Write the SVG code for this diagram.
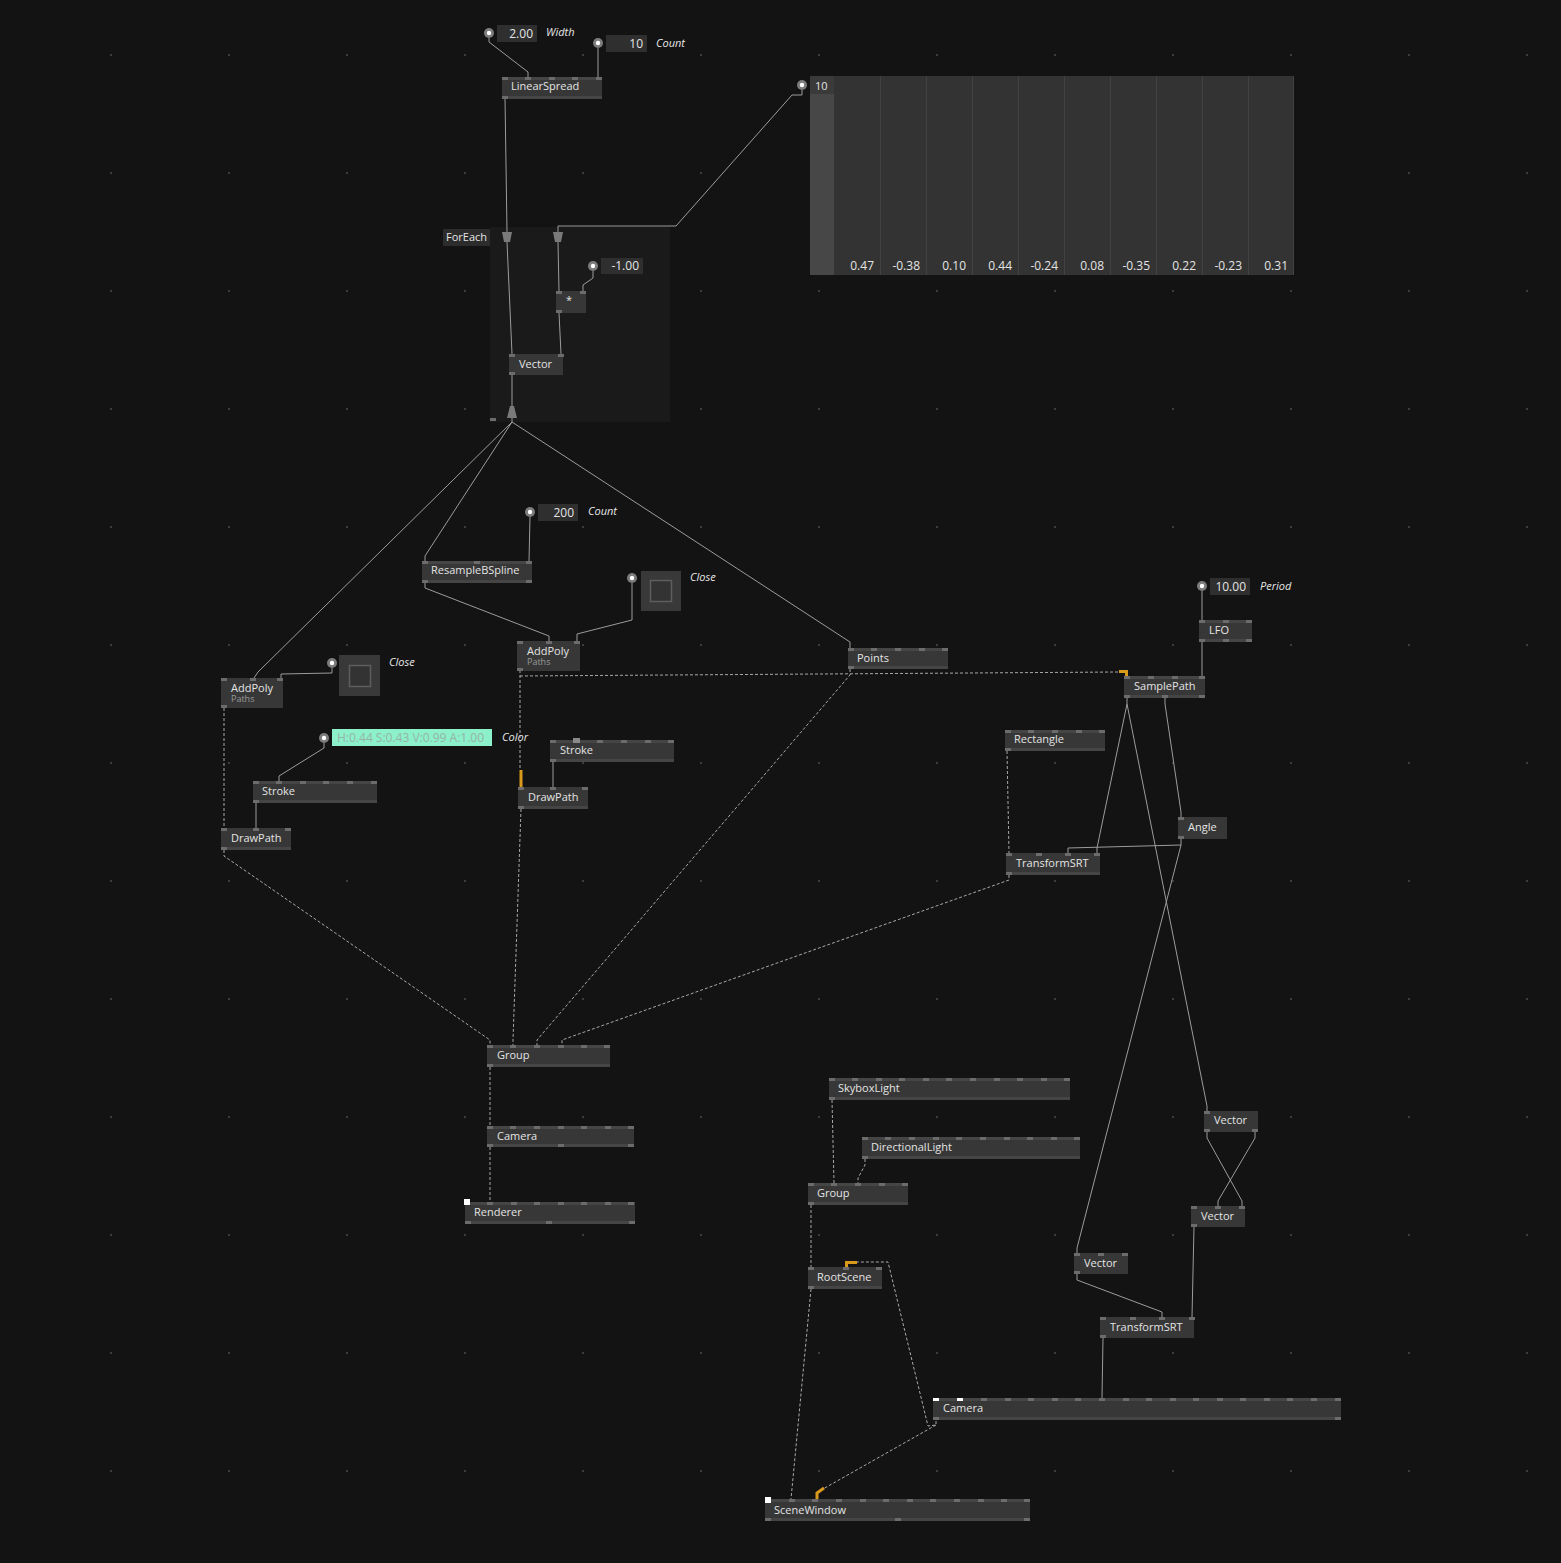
<svg xmlns="http://www.w3.org/2000/svg" xmlns:xlink="http://www.w3.org/1999/xlink" width="1561" height="1563" viewBox="0 0 1561 1563">
<defs>
<style>
.b{fill:#373737}
.s{fill:#454545}
.p{fill:#6c6c6c}
.w{fill:#ffffff}
.t{font-family:"Open Sans","Liberation Sans",sans-serif;font-size:11px;fill:#e4e4e4}
.sub{font-family:"Open Sans","Liberation Sans",sans-serif;font-size:9px;fill:#9a9a9a}
.lb{font-family:"Open Sans","Liberation Sans",sans-serif;font-size:11px;font-style:italic;fill:#e6e6e6}
.v{font-family:"Open Sans","Liberation Sans",sans-serif;font-size:12px;fill:#e4e4e4;text-anchor:end}
.io{fill:#2f2f2f}
.lk{fill:none;stroke:#9c9c9c;stroke-width:1}
.dl{fill:none;stroke:#a8a8a8;stroke-width:1;stroke-dasharray:3 2}
.or{fill:none;stroke:#d99a1c;stroke-width:3}
.dot{fill:#3c3c3c}
.spl{fill:#7a7a7a}
</style>
<g id="pc"><circle r="5" fill="#7c7c7c"/><circle r="2.2" fill="#ffffff"/></g>
</defs>
<rect x="0" y="0" width="1561" height="1563" fill="#131313"/>
<g id="grid">
<g id="dots">
<rect class="dot" x="110" y="54" width="2" height="2"/><rect class="dot" x="228" y="54" width="2" height="2"/><rect class="dot" x="346" y="54" width="2" height="2"/><rect class="dot" x="464" y="54" width="2" height="2"/><rect class="dot" x="582" y="54" width="2" height="2"/><rect class="dot" x="700" y="54" width="2" height="2"/><rect class="dot" x="818" y="54" width="2" height="2"/><rect class="dot" x="936" y="54" width="2" height="2"/><rect class="dot" x="1054" y="54" width="2" height="2"/><rect class="dot" x="1172" y="54" width="2" height="2"/><rect class="dot" x="1290" y="54" width="2" height="2"/><rect class="dot" x="1408" y="54" width="2" height="2"/><rect class="dot" x="1526" y="54" width="2" height="2"/>
</g>
<use href="#dots" y="118"/><use href="#dots" y="236"/><use href="#dots" y="354"/><use href="#dots" y="472"/><use href="#dots" y="590"/><use href="#dots" y="708"/><use href="#dots" y="826"/><use href="#dots" y="944"/><use href="#dots" y="1062"/><use href="#dots" y="1180"/><use href="#dots" y="1298"/><use href="#dots" y="1416"/>
</g>
<g id="n-foreach">
<rect x="490" y="227" width="180" height="195" fill="#1a1a1a"/>
<rect x="443" y="229" width="47" height="17" fill="#2c2c2c"/>
<text class="t" x="446" y="241">ForEach</text>
<rect class="p" x="490" y="418" width="6" height="3"/>
</g>
<g id="connectors">
<path class="lk" d="M489,38 L489,42 L528,72 L528,77"/>
<path class="lk" d="M598,48 L598,77"/>
<path class="lk" d="M505,98 L507,232"/>
<path class="lk" d="M802,90 L802,95 L792,95 L676,226 L558,226 L558,232"/>
<path class="lk" d="M507,242 L512,354"/>
<path class="lk" d="M558,242 L559,291"/>
<path class="lk" d="M593,271 L593,278 L583,285 L583,291"/>
<path class="lk" d="M559,313 L561,354"/>
<path class="lk" d="M512,375 L512,406"/>
<path class="lk" d="M512,418 L512,422 L258,672 L254,678"/>
<path class="lk" d="M512,422 L425,556 L425,561"/>
<path class="lk" d="M512,422 L850,642 L850,648"/>
<path class="lk" d="M530,517 L529,561"/>
<path class="lk" d="M425,582 L425,588 L549,636 L549,641"/>
<path class="lk" d="M632,583 L632,620 L577,634 L577,641"/>
<path class="lk" d="M332,668 L332,673 L281,674 L281,678"/>
<path class="lk" d="M324,743 L324,748 L279,776 L279,781"/>
<path class="lk" d="M256,803 L256,828"/>
<path class="lk" d="M553,762 L553,787"/>
<path class="lk" d="M1202,591 L1202,620"/>
<path class="lk" d="M1202,642 L1202,676"/>
<path class="lk" d="M1127,698 L1127,704 L1097,848 L1097,853"/>
<path class="lk" d="M1127,704 L1207,1106 L1207,1111"/>
<path class="lk" d="M1165,698 L1165,704 L1181,812 L1181,817"/>
<path class="lk" d="M1181,839 L1181,845 L1068,848 L1068,853"/>
<path class="lk" d="M1181,845 L1077,1248 L1077,1253"/>
<path class="lk" d="M1207,1132 L1207,1138 L1242,1201 L1242,1206"/>
<path class="lk" d="M1255,1132 L1255,1138 L1218,1201 L1218,1206"/>
<path class="lk" d="M1077,1274 L1077,1280 L1162,1312 L1162,1317"/>
<path class="lk" d="M1194,1227 L1192,1317"/>
<path class="lk" d="M1103,1338 L1102,1398"/>
<path class="dl" d="M224,708 L224,828"/>
<path class="dl" d="M520,670 L520,770"/>
<path class="dl" d="M520,676 L1119,672"/>
<path class="dl" d="M224,850 L224,856 L490,1040 L490,1045"/>
<path class="dl" d="M521,809 L513,1040 L513,1045"/>
<path class="dl" d="M850,669 L850,675 L537,1040 L537,1045"/>
<path class="dl" d="M1009,875 L1009,880 L562,1040 L562,1045"/>
<path class="dl" d="M1007,751 L1009,853"/>
<path class="dl" d="M490,1067 L490,1126"/>
<path class="dl" d="M490,1147 L490,1202"/>
<path class="dl" d="M832,1100 L834,1183"/>
<path class="dl" d="M865,1159 L865,1165 L858,1178 L858,1183"/>
<path class="dl" d="M811,1205 L811,1267"/>
<path class="dl" d="M811,1289 L791,1499"/>
<path class="dl" d="M936,1421 L936,1425 L928,1426 L888,1262 L857,1262"/>
<path class="dl" d="M936,1425 L823,1489"/>
<path class="or" d="M521,770 L521,787"/>
<path class="or" d="M1119,671.5 L1126.5,671.5 L1126.5,677"/>
<path class="or" d="M857,1262.5 L846.5,1262.5 L846.5,1267"/>
<path class="or" d="M824,1488 L817,1493 L817,1499"/>
</g>
<g id="n-width">
<use href="#pc" x="489" y="33"/>
<rect class="io" x="497" y="25" width="40" height="17"/>
<text class="v" x="533" y="38">2.00</text>
<text class="lb" x="546" y="36">Width</text>
</g>
<g id="n-count">
<use href="#pc" x="598" y="43"/>
<rect class="io" x="606" y="35" width="41" height="17"/>
<text class="v" x="643" y="48">10</text>
<text class="lb" x="656" y="47">Count</text>
</g>
<g id="n-linearspread">
<rect class="b" x="502" y="77" width="100" height="22"/>
<rect class="s" x="502" y="77" width="100" height="3"/><rect class="s" x="502" y="96" width="100" height="3"/>
<rect class="p" x="502" y="77" width="6" height="3"/><rect class="p" x="525" y="77" width="6" height="3"/><rect class="p" x="549" y="77" width="6" height="3"/><rect class="p" x="572" y="77" width="6" height="3"/><rect class="p" x="596" y="77" width="6" height="3"/>
<rect class="p" x="502" y="96" width="6" height="3"/>
<text class="t" x="511" y="90">LinearSpread</text>
</g>
<g id="n-spread">
<use href="#pc" x="802" y="85"/>
<rect x="810" y="76" width="484" height="199" fill="#333333"/>
<rect x="810" y="76" width="24" height="199" fill="#474747"/>
<rect x="810" y="76" width="24" height="18" fill="#3a3a3a"/>
<text class="t" x="815" y="90">10</text>
<g stroke="#424242" stroke-width="1">
<line x1="880.5" y1="76" x2="880.5" y2="275"/><line x1="926.5" y1="76" x2="926.5" y2="275"/><line x1="972.5" y1="76" x2="972.5" y2="275"/><line x1="1018.5" y1="76" x2="1018.5" y2="275"/><line x1="1064.5" y1="76" x2="1064.5" y2="275"/><line x1="1110.5" y1="76" x2="1110.5" y2="275"/><line x1="1156.5" y1="76" x2="1156.5" y2="275"/><line x1="1202.5" y1="76" x2="1202.5" y2="275"/><line x1="1248.5" y1="76" x2="1248.5" y2="275"/><line x1="1293.5" y1="76" x2="1293.5" y2="275"/>
</g>
<text class="v" x="874" y="270">0.47</text><text class="v" x="920" y="270">-0.38</text><text class="v" x="966" y="270">0.10</text><text class="v" x="1012" y="270">0.44</text><text class="v" x="1058" y="270">-0.24</text><text class="v" x="1104" y="270">0.08</text><text class="v" x="1150" y="270">-0.35</text><text class="v" x="1196" y="270">0.22</text><text class="v" x="1242" y="270">-0.23</text><text class="v" x="1288" y="270">0.31</text>
</g>
<g id="n-splicers">
<polygon class="spl" points="502,232 512,232 510,242 504,242"/>
<polygon class="spl" points="553,232 563,232 561,242 555,242"/>
<polygon class="spl" points="510,406 514,406 517,418 507,418"/>
</g>
<g id="n-minus1">
<use href="#pc" x="593" y="266"/>
<rect class="io" x="601" y="258" width="42" height="16"/>
<text class="v" x="639" y="270">-1.00</text>
</g>
<g id="n-multiply">
<rect class="b" x="556" y="291" width="30" height="22"/>
<rect class="p" x="556" y="291" width="6" height="3"/><rect class="p" x="580" y="291" width="6" height="3"/><rect class="p" x="556" y="310" width="6" height="3"/>
<text class="t" x="566" y="304">*</text>
</g>
<g id="n-vector-fe">
<rect class="b" x="509" y="354" width="54" height="21"/>
<rect class="p" x="509" y="354" width="6" height="3"/><rect class="p" x="558" y="354" width="6" height="3"/><rect class="p" x="509" y="372" width="6" height="3"/>
<text class="t" x="519" y="368">Vector</text>
</g>
<g id="n-count200">
<use href="#pc" x="530" y="512"/>
<rect class="io" x="538" y="504" width="40" height="17"/>
<text class="v" x="574" y="517">200</text>
<text class="lb" x="588" y="515">Count</text>
</g>
<g id="n-resample">
<rect class="b" x="422" y="561" width="110" height="22"/>
<rect class="s" x="422" y="561" width="110" height="3"/><rect class="s" x="422" y="580" width="110" height="3"/>
<rect class="p" x="422" y="561" width="6" height="3"/><rect class="p" x="474" y="561" width="6" height="3"/><rect class="p" x="526" y="561" width="6" height="3"/>
<rect class="p" x="422" y="580" width="6" height="3"/><rect class="p" x="526" y="580" width="6" height="3"/>
<text class="t" x="431" y="574">ResampleBSpline</text>
</g>
<g id="n-close-mid">
<use href="#pc" x="632" y="578"/>
<rect x="641" y="571" width="40" height="40" fill="#393939"/>
<rect x="650.5" y="580.5" width="21" height="21" fill="#333" stroke="#5e5e5e" stroke-width="1.5"/>
<text class="lb" x="690" y="581">Close</text>
</g>
<g id="n-addpoly-mid">
<rect class="b" x="517" y="641" width="63" height="30"/>
<rect class="p" x="517" y="641" width="6" height="3"/><rect class="p" x="546" y="641" width="6" height="3"/><rect class="p" x="574" y="641" width="6" height="3"/><rect class="p" x="517" y="668" width="6" height="3"/>
<text class="t" x="527" y="655">AddPoly</text>
<text class="sub" x="527" y="665">Paths</text>
</g>
<g id="n-close-left">
<use href="#pc" x="332" y="663"/>
<rect x="339" y="655" width="41" height="41" fill="#393939"/>
<rect x="349.5" y="665.5" width="21" height="21" fill="#333" stroke="#5e5e5e" stroke-width="1.5"/>
<text class="lb" x="389" y="666">Close</text>
</g>
<g id="n-addpoly-left">
<rect class="b" x="221" y="678" width="62" height="30"/>
<rect class="p" x="221" y="678" width="6" height="3"/><rect class="p" x="250" y="678" width="6" height="3"/><rect class="p" x="277" y="678" width="6" height="3"/><rect class="p" x="221" y="705" width="6" height="3"/>
<text class="t" x="231" y="692">AddPoly</text>
<text class="sub" x="231" y="702">Paths</text>
</g>
<g id="n-color">
<use href="#pc" x="324" y="738"/>
<rect x="332" y="729" width="160" height="17" fill="#8cf0cb"/>
<text x="337" y="742" font-family="Open Sans, Liberation Sans, sans-serif" font-size="12" fill="#97b3a8">H:0.44 S:0.43 V:0.99 A:1.00</text>
<text class="lb" x="502" y="741">Color</text>
</g>
<g id="n-stroke-left">
<rect class="b" x="253" y="781" width="124" height="22"/>
<rect class="s" x="253" y="781" width="124" height="3"/><rect class="s" x="253" y="800" width="124" height="3"/>
<rect class="p" x="253" y="781" width="6" height="3"/><rect class="p" x="276" y="781" width="6" height="3"/><rect class="p" x="300" y="781" width="6" height="3"/><rect class="p" x="323" y="781" width="6" height="3"/><rect class="p" x="347" y="781" width="6" height="3"/><rect class="p" x="371" y="781" width="6" height="3"/>
<rect class="p" x="253" y="800" width="6" height="3"/>
<text class="t" x="262" y="795">Stroke</text>
</g>
<g id="n-drawpath-left">
<rect class="b" x="221" y="828" width="70" height="22"/>
<rect class="s" x="221" y="847" width="70" height="3"/>
<rect class="p" x="221" y="828" width="6" height="3"/><rect class="p" x="253" y="828" width="6" height="3"/><rect class="p" x="285" y="828" width="6" height="3"/>
<rect class="p" x="221" y="847" width="6" height="3"/>
<text class="t" x="231" y="842">DrawPath</text>
</g>
<g id="n-stroke-mid">
<rect class="b" x="550" y="740" width="124" height="22"/>
<rect class="s" x="550" y="740" width="124" height="3"/><rect class="s" x="550" y="759" width="124" height="3"/>
<rect class="p" x="550" y="740" width="6" height="3"/><rect x="573" y="738" width="7" height="5" fill="#8a8a8a"/><rect class="p" x="597" y="740" width="6" height="3"/><rect class="p" x="621" y="740" width="6" height="3"/><rect class="p" x="645" y="740" width="6" height="3"/><rect class="p" x="668" y="740" width="6" height="3"/>
<rect class="p" x="550" y="759" width="6" height="3"/>
<text class="t" x="560" y="754">Stroke</text>
</g>
<g id="n-drawpath-mid">
<rect class="b" x="518" y="787" width="70" height="22"/>
<rect class="s" x="518" y="806" width="70" height="3"/>
<rect class="p" x="518" y="787" width="6" height="3"/><rect class="p" x="550" y="787" width="6" height="3"/><rect class="p" x="582" y="787" width="6" height="3"/>
<rect class="p" x="518" y="806" width="6" height="3"/>
<text class="t" x="528" y="801">DrawPath</text>
</g>
<g id="n-points">
<rect class="b" x="848" y="648" width="100" height="21"/>
<rect class="s" x="848" y="648" width="100" height="3"/><rect class="s" x="848" y="666" width="100" height="3"/>
<rect class="p" x="848" y="648" width="6" height="3"/><rect class="p" x="871" y="648" width="6" height="3"/><rect class="p" x="895" y="648" width="6" height="3"/><rect class="p" x="919" y="648" width="6" height="3"/><rect class="p" x="942" y="648" width="6" height="3"/>
<rect class="p" x="848" y="666" width="6" height="3"/>
<text class="t" x="857" y="662">Points</text>
</g>
<g id="n-period">
<use href="#pc" x="1202" y="586"/>
<rect class="io" x="1210" y="578" width="40" height="17"/>
<text class="v" x="1246" y="591">10.00</text>
<text class="lb" x="1260" y="590">Period</text>
</g>
<g id="n-lfo">
<rect class="b" x="1199" y="620" width="53" height="22"/>
<rect class="s" x="1199" y="620" width="53" height="3"/><rect class="s" x="1199" y="639" width="53" height="3"/>
<rect class="p" x="1199" y="620" width="6" height="3"/><rect class="p" x="1223" y="620" width="6" height="3"/><rect class="p" x="1246" y="620" width="6" height="3"/>
<rect class="p" x="1199" y="639" width="6" height="3"/><rect class="p" x="1223" y="639" width="6" height="3"/><rect class="p" x="1246" y="639" width="6" height="3"/>
<text class="t" x="1209" y="634">LFO</text>
</g>
<g id="n-samplepath">
<rect class="b" x="1124" y="676" width="81" height="22"/>
<rect class="s" x="1124" y="676" width="81" height="3"/><rect class="s" x="1124" y="695" width="81" height="3"/>
<rect class="p" x="1124" y="676" width="6" height="3"/><rect class="p" x="1148" y="676" width="6" height="3"/><rect class="p" x="1172" y="676" width="6" height="3"/><rect class="p" x="1199" y="676" width="6" height="3"/>
<rect class="p" x="1124" y="695" width="6" height="3"/><rect class="p" x="1162" y="695" width="6" height="3"/><rect class="p" x="1199" y="695" width="6" height="3"/>
<text class="t" x="1134" y="690">SamplePath</text>
</g>
<g id="n-rectangle">
<rect class="b" x="1005" y="730" width="100" height="21"/>
<rect class="s" x="1005" y="730" width="100" height="3"/><rect class="s" x="1005" y="748" width="100" height="3"/>
<rect class="p" x="1005" y="730" width="6" height="3"/><rect class="p" x="1028" y="730" width="6" height="3"/><rect class="p" x="1052" y="730" width="6" height="3"/><rect class="p" x="1076" y="730" width="6" height="3"/><rect class="p" x="1099" y="730" width="6" height="3"/>
<rect class="p" x="1005" y="748" width="6" height="3"/>
<text class="t" x="1014" y="743">Rectangle</text>
</g>
<g id="n-angle">
<rect class="b" x="1178" y="817" width="49" height="22"/>
<rect class="p" x="1178" y="817" width="6" height="3"/><rect class="p" x="1178" y="836" width="6" height="3"/>
<text class="t" x="1188" y="831">Angle</text>
</g>
<g id="n-transformsrt-up">
<rect class="b" x="1006" y="853" width="94" height="22"/>
<rect class="s" x="1006" y="872" width="94" height="3"/>
<rect class="p" x="1006" y="853" width="6" height="3"/><rect class="p" x="1036" y="853" width="6" height="3"/><rect class="p" x="1065" y="853" width="6" height="3"/><rect class="p" x="1094" y="853" width="6" height="3"/>
<rect class="p" x="1006" y="872" width="6" height="3"/>
<text class="t" x="1016" y="867">TransformSRT</text>
</g>
<g id="n-group-main">
<rect class="b" x="487" y="1045" width="123" height="22"/>
<rect class="s" x="487" y="1045" width="123" height="3"/><rect class="s" x="487" y="1064" width="123" height="3"/>
<rect class="p" x="487" y="1045" width="6" height="3"/><rect class="p" x="510" y="1045" width="6" height="3"/><rect class="p" x="534" y="1045" width="6" height="3"/><rect class="p" x="558" y="1045" width="6" height="3"/><rect class="p" x="581" y="1045" width="6" height="3"/><rect class="p" x="604" y="1045" width="6" height="3"/>
<rect class="p" x="487" y="1064" width="6" height="3"/>
<text class="t" x="497" y="1059">Group</text>
</g>
<g id="n-camera-left">
<rect class="b" x="487" y="1126" width="147" height="21"/>
<rect class="s" x="487" y="1126" width="147" height="3"/><rect class="s" x="487" y="1144" width="147" height="3"/>
<rect class="p" x="487" y="1126" width="6" height="3"/><rect class="p" x="510" y="1126" width="6" height="3"/><rect class="p" x="534" y="1126" width="6" height="3"/><rect class="p" x="558" y="1126" width="6" height="3"/><rect class="p" x="581" y="1126" width="6" height="3"/><rect class="p" x="605" y="1126" width="6" height="3"/><rect class="p" x="628" y="1126" width="6" height="3"/>
<rect class="p" x="487" y="1144" width="6" height="3"/><rect class="p" x="558" y="1144" width="6" height="3"/><rect class="p" x="628" y="1144" width="6" height="3"/>
<text class="t" x="497" y="1140">Camera</text>
</g>
<g id="n-renderer">
<rect class="b" x="465" y="1202" width="170" height="22"/>
<rect class="s" x="465" y="1202" width="170" height="3"/><rect class="s" x="465" y="1221" width="170" height="3"/>
<rect class="p" x="487" y="1202" width="6" height="3"/><rect class="p" x="511" y="1202" width="6" height="3"/><rect class="p" x="534" y="1202" width="6" height="3"/><rect class="p" x="558" y="1202" width="6" height="3"/><rect class="p" x="581" y="1202" width="6" height="3"/><rect class="p" x="605" y="1202" width="6" height="3"/><rect class="p" x="628" y="1202" width="6" height="3"/>
<rect class="p" x="465" y="1221" width="6" height="3"/><rect class="p" x="546" y="1221" width="6" height="3"/><rect class="p" x="629" y="1221" width="6" height="3"/>
<rect class="w" x="464" y="1199" width="6" height="6"/>
<text class="t" x="474" y="1216">Renderer</text>
</g>
<g id="n-skyboxlight">
<rect class="b" x="829" y="1078" width="241" height="22"/>
<rect class="s" x="829" y="1078" width="241" height="3"/><rect class="s" x="829" y="1097" width="241" height="3"/>
<rect class="p" x="829" y="1078" width="6" height="3"/><rect class="p" x="852" y="1078" width="6" height="3"/><rect class="p" x="876" y="1078" width="6" height="3"/><rect class="p" x="899" y="1078" width="6" height="3"/><rect class="p" x="923" y="1078" width="6" height="3"/><rect class="p" x="946" y="1078" width="6" height="3"/><rect class="p" x="970" y="1078" width="6" height="3"/><rect class="p" x="994" y="1078" width="6" height="3"/><rect class="p" x="1017" y="1078" width="6" height="3"/><rect class="p" x="1041" y="1078" width="6" height="3"/><rect class="p" x="1064" y="1078" width="6" height="3"/>
<rect class="p" x="829" y="1097" width="6" height="3"/>
<text class="t" x="838" y="1092">SkyboxLight</text>
</g>
<g id="n-directionallight">
<rect class="b" x="862" y="1137" width="218" height="22"/>
<rect class="s" x="862" y="1137" width="218" height="3"/><rect class="s" x="862" y="1156" width="218" height="3"/>
<rect class="p" x="862" y="1137" width="6" height="3"/><rect class="p" x="885" y="1137" width="6" height="3"/><rect class="p" x="909" y="1137" width="6" height="3"/><rect class="p" x="933" y="1137" width="6" height="3"/><rect class="p" x="956" y="1137" width="6" height="3"/><rect class="p" x="980" y="1137" width="6" height="3"/><rect class="p" x="1004" y="1137" width="6" height="3"/><rect class="p" x="1027" y="1137" width="6" height="3"/><rect class="p" x="1051" y="1137" width="6" height="3"/><rect class="p" x="1074" y="1137" width="6" height="3"/>
<rect class="p" x="862" y="1156" width="6" height="3"/>
<text class="t" x="871" y="1151">DirectionalLight</text>
</g>
<g id="n-group-lower">
<rect class="b" x="808" y="1183" width="100" height="22"/>
<rect class="s" x="808" y="1183" width="100" height="3"/><rect class="s" x="808" y="1202" width="100" height="3"/>
<rect class="p" x="808" y="1183" width="6" height="3"/><rect class="p" x="831" y="1183" width="6" height="3"/><rect class="p" x="855" y="1183" width="6" height="3"/><rect class="p" x="879" y="1183" width="6" height="3"/><rect class="p" x="902" y="1183" width="6" height="3"/>
<rect class="p" x="808" y="1202" width="6" height="3"/>
<text class="t" x="817" y="1197">Group</text>
</g>
<g id="n-rootscene">
<rect class="b" x="808" y="1267" width="74" height="22"/>
<rect class="s" x="808" y="1286" width="74" height="3"/>
<rect class="p" x="808" y="1267" width="6" height="3"/><rect class="p" x="843" y="1267" width="6" height="3"/><rect class="p" x="876" y="1267" width="6" height="3"/>
<rect class="p" x="808" y="1286" width="6" height="3"/>
<text class="t" x="817" y="1281">RootScene</text>
</g>
<g id="n-scenewindow">
<rect class="b" x="765" y="1499" width="265" height="22"/>
<rect class="s" x="765" y="1499" width="265" height="3"/><rect class="s" x="765" y="1518" width="265" height="3"/>
<rect class="p" x="789" y="1499" width="6" height="3"/><rect class="p" x="812" y="1499" width="6" height="3"/><rect class="p" x="836" y="1499" width="6" height="3"/><rect class="p" x="860" y="1499" width="6" height="3"/><rect class="p" x="883" y="1499" width="6" height="3"/><rect class="p" x="907" y="1499" width="6" height="3"/><rect class="p" x="930" y="1499" width="6" height="3"/><rect class="p" x="954" y="1499" width="6" height="3"/><rect class="p" x="978" y="1499" width="6" height="3"/><rect class="p" x="1001" y="1499" width="6" height="3"/><rect class="p" x="1024" y="1499" width="6" height="3"/>
<rect class="p" x="765" y="1518" width="6" height="3"/><rect class="p" x="895" y="1518" width="6" height="3"/><rect class="p" x="1024" y="1518" width="6" height="3"/>
<rect class="w" x="765" y="1497" width="6" height="6"/>
<text class="t" x="774" y="1514">SceneWindow</text>
</g>
<g id="n-vector-rt">
<rect class="b" x="1204" y="1111" width="54" height="21"/>
<rect class="p" x="1204" y="1111" width="6" height="3"/><rect class="p" x="1204" y="1129" width="6" height="3"/><rect class="p" x="1252" y="1129" width="6" height="3"/>
<text class="t" x="1214" y="1124">Vector</text>
</g>
<g id="n-vector-rm">
<rect class="b" x="1191" y="1206" width="54" height="21"/>
<rect class="p" x="1191" y="1206" width="6" height="3"/><rect class="p" x="1215" y="1206" width="6" height="3"/><rect class="p" x="1239" y="1206" width="6" height="3"/><rect class="p" x="1191" y="1224" width="6" height="3"/>
<text class="t" x="1201" y="1220">Vector</text>
</g>
<g id="n-vector-lb">
<rect class="b" x="1074" y="1253" width="54" height="21"/>
<rect class="p" x="1074" y="1253" width="6" height="3"/><rect class="p" x="1098" y="1253" width="6" height="3"/><rect class="p" x="1122" y="1253" width="6" height="3"/><rect class="p" x="1074" y="1271" width="6" height="3"/>
<text class="t" x="1084" y="1267">Vector</text>
</g>
<g id="n-transformsrt-low">
<rect class="b" x="1100" y="1317" width="94" height="21"/>
<rect class="p" x="1100" y="1317" width="6" height="3"/><rect class="p" x="1130" y="1317" width="6" height="3"/><rect class="p" x="1159" y="1317" width="6" height="3"/><rect class="p" x="1189" y="1317" width="6" height="3"/>
<rect class="p" x="1100" y="1335" width="6" height="3"/>
<text class="t" x="1110" y="1331">TransformSRT</text>
</g>
<g id="n-camera-right">
<rect class="b" x="933" y="1398" width="408" height="22"/>
<rect class="s" x="933" y="1398" width="408" height="3"/><rect class="s" x="933" y="1417" width="408" height="3"/>
<rect class="w" x="933" y="1398" width="6" height="3"/><rect class="w" x="957" y="1398" width="6" height="3"/>
<rect class="p" x="981" y="1398" width="6" height="3"/><rect class="p" x="1005" y="1398" width="6" height="3"/><rect class="p" x="1028" y="1398" width="6" height="3"/><rect class="p" x="1052" y="1398" width="6" height="3"/><rect class="p" x="1075" y="1398" width="6" height="3"/><rect class="p" x="1099" y="1398" width="6" height="3"/><rect class="p" x="1123" y="1398" width="6" height="3"/><rect class="p" x="1146" y="1398" width="6" height="3"/><rect class="p" x="1170" y="1398" width="6" height="3"/><rect class="p" x="1193" y="1398" width="6" height="3"/><rect class="p" x="1217" y="1398" width="6" height="3"/><rect class="p" x="1240" y="1398" width="6" height="3"/><rect class="p" x="1264" y="1398" width="6" height="3"/><rect class="p" x="1287" y="1398" width="6" height="3"/><rect class="p" x="1311" y="1398" width="6" height="3"/><rect class="p" x="1335" y="1398" width="6" height="3"/>
<rect class="p" x="933" y="1417" width="6" height="3"/><rect class="p" x="1335" y="1417" width="6" height="3"/>
<text class="t" x="943" y="1412">Camera</text>
</g>
</svg>
